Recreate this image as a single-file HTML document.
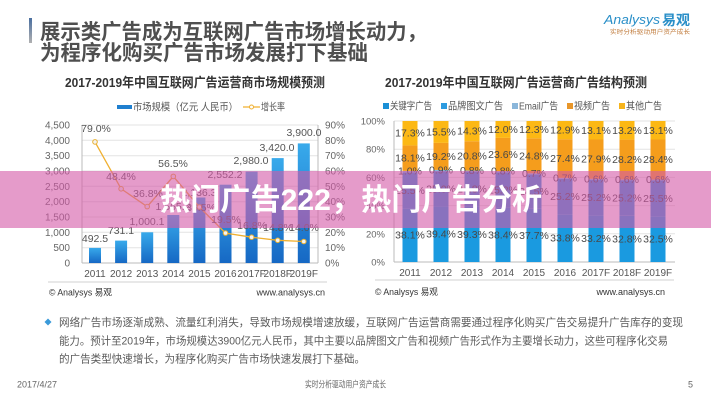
<!DOCTYPE html>
<html><head><meta charset="utf-8">
<style>
html,body{margin:0;padding:0;background:#fff;}
svg{display:block;}
text{font-family:"Liberation Sans","Noto Sans CJK SC",sans-serif;}
</style></head>
<body>
<svg width="711" height="400" viewBox="0 0 711 400" xmlns="http://www.w3.org/2000/svg">
<defs>
<linearGradient id="bg" x1="0" y1="0" x2="0" y2="1">
<stop offset="0" stop-color="#38aaeb"/><stop offset="1" stop-color="#1668c4"/>
</linearGradient>
<linearGradient id="acc" x1="0" y1="0" x2="0" y2="1">
<stop offset="0" stop-color="#4a6fa0"/><stop offset="1" stop-color="#b0b0b0"/>
</linearGradient>
</defs>
<rect width="711" height="400" fill="#fff"/>

<!-- Title -->
<rect x="29" y="18" width="3" height="25" fill="url(#acc)"/>
<text x="40" y="39" font-size="21" font-weight="bold" fill="#4f4f4f" textLength="387" lengthAdjust="spacingAndGlyphs">展示类广告成为互联网广告市场增长动力，</text>
<text x="40" y="60" font-size="21" font-weight="bold" fill="#4f4f4f" textLength="328" lengthAdjust="spacingAndGlyphs">为程序化购买广告市场发展打下基础</text>

<!-- Logo -->
<text x="604" y="24" font-size="13" font-style="italic" fill="#2a8fc8" textLength="56" lengthAdjust="spacingAndGlyphs">Analysys</text>
<text x="662" y="25" font-size="14" font-weight="bold" fill="#2a8fc8" textLength="28" lengthAdjust="spacingAndGlyphs">易观</text>
<text x="610" y="34" font-size="6" fill="#c07a3a" textLength="80" lengthAdjust="spacingAndGlyphs">实时分析驱动用户资产成长</text>

<!-- LEFT CHART -->
<text x="65" y="87" font-size="13" font-weight="bold" fill="#333" textLength="260" lengthAdjust="spacingAndGlyphs">2017-2019年中国互联网广告运营商市场规模预测</text>
<rect x="117" y="105" width="15" height="4" fill="#1f7fcf"/>
<text x="133" y="110.5" font-size="10" fill="#555" textLength="105" lengthAdjust="spacingAndGlyphs">市场规模（亿元 人民币）</text>
<line x1="243" y1="107" x2="260" y2="107" stroke="#f0b030" stroke-width="1.2"/>
<circle cx="251.5" cy="107" r="2" fill="#fff" stroke="#f0b030"/>
<text x="261" y="110.5" font-size="10" fill="#555" textLength="24" lengthAdjust="spacingAndGlyphs">增长率</text>

<g stroke="#e3e3e3" stroke-width="1">
<line x1="82" y1="125" x2="318" y2="125"/>
<line x1="82" y1="140.3" x2="318" y2="140.3"/>
<line x1="82" y1="155.7" x2="318" y2="155.7"/>
<line x1="82" y1="171" x2="318" y2="171"/>
<line x1="82" y1="186.3" x2="318" y2="186.3"/>
<line x1="82" y1="201.7" x2="318" y2="201.7"/>
<line x1="82" y1="217" x2="318" y2="217"/>
<line x1="82" y1="232.3" x2="318" y2="232.3"/>
<line x1="82" y1="247.7" x2="318" y2="247.7"/>
</g>
<line x1="82" y1="125" x2="82" y2="263" stroke="#bbb"/>
<line x1="318" y1="125" x2="318" y2="263" stroke="#bbb"/>
<line x1="82" y1="263" x2="318" y2="263" stroke="#bbb"/>

<g font-size="10" fill="#666" text-anchor="end">
<text x="70" y="128.5">4,500</text>
<text x="70" y="143.8">4,000</text>
<text x="70" y="159.2">3,500</text>
<text x="70" y="174.5">3,000</text>
<text x="70" y="189.8">2,500</text>
<text x="70" y="205.2">2,000</text>
<text x="70" y="220.5">1,500</text>
<text x="70" y="235.8">1,000</text>
<text x="70" y="251.2">500</text>
<text x="70" y="266.5">0</text>
</g>
<g font-size="10" fill="#666">
<text x="325" y="128.5">90%</text>
<text x="325" y="143.8">80%</text>
<text x="325" y="159.2">70%</text>
<text x="325" y="174.5">60%</text>
<text x="325" y="189.8">50%</text>
<text x="325" y="205.2">40%</text>
<text x="325" y="220.5">30%</text>
<text x="325" y="235.8">20%</text>
<text x="325" y="251.2">10%</text>
<text x="325" y="266.5">0%</text>
</g>

<g fill="url(#bg)">
<rect x="89" y="247.9" width="12" height="15.1"/>
<rect x="115.1" y="240.6" width="12" height="22.4"/>
<rect x="141.2" y="232.3" width="12" height="30.7"/>
<rect x="167.3" y="215" width="12" height="48"/>
<rect x="193.4" y="197.5" width="12" height="65.5"/>
<rect x="219.5" y="184.7" width="12" height="78.3"/>
<rect x="245.6" y="171.6" width="12" height="91.4"/>
<rect x="271.7" y="158.1" width="12" height="104.9"/>
<rect x="297.8" y="143.4" width="12" height="119.6"/>
</g>

<g font-size="10.5" fill="#555" text-anchor="middle">
<text x="95" y="242">492.5</text>
<text x="121" y="234">731.1</text>
<text x="147" y="225">1,000.1</text>
<text x="173" y="210">1,565.2</text>
<text x="199" y="196">2,136.3</text>
<text x="225" y="178">2,552.2</text>
<text x="251" y="164">2,980.0</text>
<text x="277" y="151">3,420.0</text>
<text x="304" y="136">3,900.0</text>
</g>

<polyline points="95,141.9 121.1,188.8 147.2,206.6 173.3,176.4 199.4,207 225.5,233.1 251.6,237.2 277.7,240.3 303.8,241.5" fill="none" stroke="#f0b030" stroke-width="1.3"/>
<g fill="#f3f3f3" stroke="#e8b030" stroke-width="1">
<circle cx="95" cy="141.9" r="2.3"/>
<circle cx="121.1" cy="188.8" r="2.3"/>
<circle cx="147.2" cy="206.6" r="2.3"/>
<circle cx="173.3" cy="176.4" r="2.3"/>
<circle cx="199.4" cy="207" r="2.3"/>
<circle cx="225.5" cy="233.1" r="2.3"/>
<circle cx="251.6" cy="237.2" r="2.3"/>
<circle cx="277.7" cy="240.3" r="2.3"/>
<circle cx="303.8" cy="241.5" r="2.3"/>
</g>
<g font-size="10.5" fill="#555" text-anchor="middle">
<text x="96" y="132">79.0%</text>
<text x="121" y="180">48.4%</text>
<text x="148" y="197">36.8%</text>
<text x="173" y="167">56.5%</text>
<text x="201" y="211">36.5%</text>
<text x="226" y="223">19.5%</text>
<text x="252" y="229">16.8%</text>
<text x="278" y="231">14.8%</text>
<text x="304" y="231">14.0%</text>
</g>

<g font-size="10" fill="#555" text-anchor="middle">
<text x="95" y="277">2011</text>
<text x="121.1" y="277">2012</text>
<text x="147.2" y="277">2013</text>
<text x="173.3" y="277">2014</text>
<text x="199.4" y="277">2015</text>
<text x="225.5" y="277">2016</text>
<text x="251.6" y="277">2017F</text>
<text x="277.7" y="277">2018F</text>
<text x="303.8" y="277">2019F</text>
</g>
<line x1="48" y1="282" x2="327" y2="282" stroke="#d0d0d0"/>
<text x="49" y="295.5" font-size="9" fill="#333" textLength="63" lengthAdjust="spacingAndGlyphs">© Analysys 易观</text>
<text x="325" y="295.5" font-size="9" fill="#333" text-anchor="end">www.analysys.cn</text>

<!-- RIGHT CHART -->
<text x="385" y="87" font-size="13" font-weight="bold" fill="#333" textLength="262" lengthAdjust="spacingAndGlyphs">2017-2019年中国互联网广告运营商广告结构预测</text>
<g font-size="10" fill="#555">
<rect x="383" y="103" width="6" height="6" fill="#1a8fd6"/>
<text x="390" y="109.5" textLength="42" lengthAdjust="spacingAndGlyphs">关键字广告</text>
<rect x="441" y="103" width="6" height="6" fill="#2c9be0"/>
<text x="448" y="109.5" textLength="55" lengthAdjust="spacingAndGlyphs">品牌图文广告</text>
<rect x="512" y="103" width="6" height="6" fill="#8ab6da"/>
<text x="519" y="109.5" textLength="39" lengthAdjust="spacingAndGlyphs">Email广告</text>
<rect x="567" y="103" width="6" height="6" fill="#e8962a"/>
<text x="574" y="109.5" textLength="36" lengthAdjust="spacingAndGlyphs">视频广告</text>
<rect x="619" y="103" width="6" height="6" fill="#f6b41c"/>
<text x="626" y="109.5" textLength="36" lengthAdjust="spacingAndGlyphs">其他广告</text>
</g>

<g stroke="#e3e3e3">
<line x1="394" y1="121" x2="675" y2="121"/>
<line x1="394" y1="149.2" x2="675" y2="149.2"/>
<line x1="394" y1="177.4" x2="675" y2="177.4"/>
<line x1="394" y1="205.6" x2="675" y2="205.6"/>
<line x1="394" y1="233.8" x2="675" y2="233.8"/>
</g>
<line x1="394" y1="121" x2="394" y2="262" stroke="#bbb"/>
<line x1="394" y1="262" x2="675" y2="262" stroke="#bbb"/>
<g font-size="9.5" fill="#666" text-anchor="end">
<text x="385" y="124.5">100%</text>
<text x="385" y="152.7">80%</text>
<text x="385" y="180.9">60%</text>
<text x="385" y="209.1">40%</text>
<text x="385" y="237.3">20%</text>
<text x="385" y="265.5">0%</text>
</g>

<!-- 2011 -->
<rect x="402.5" y="208.3" width="15" height="53.7" fill="#1a9ae0"/>
<rect x="402.5" y="172.3" width="15" height="36" fill="#2c94dc"/>
<rect x="402.5" y="170.9" width="15" height="1.4" fill="#8ab6da"/>
<rect x="402.5" y="145.4" width="15" height="25.5" fill="#f59d1c"/>
<rect x="402.5" y="121" width="15" height="24.4" fill="#fcb814"/>
<!-- 2012 -->
<rect x="433.5" y="206.4" width="15" height="55.6" fill="#1a9ae0"/>
<rect x="433.5" y="171.2" width="15" height="35.2" fill="#2c94dc"/>
<rect x="433.5" y="169.9" width="15" height="1.3" fill="#8ab6da"/>
<rect x="433.5" y="142.9" width="15" height="27" fill="#f59d1c"/>
<rect x="433.5" y="121" width="15" height="21.9" fill="#fcb814"/>
<!-- 2013 -->
<rect x="464.5" y="206.6" width="15" height="55.4" fill="#1a9ae0"/>
<rect x="464.5" y="171.6" width="15" height="35" fill="#2c94dc"/>
<rect x="464.5" y="170.5" width="15" height="1.1" fill="#8ab6da"/>
<rect x="464.5" y="141.2" width="15" height="29.3" fill="#f59d1c"/>
<rect x="464.5" y="121" width="15" height="20.2" fill="#fcb814"/>
<!-- 2014 -->
<rect x="495.5" y="207.9" width="15" height="54.1" fill="#1a9ae0"/>
<rect x="495.5" y="172.3" width="15" height="35.6" fill="#2c94dc"/>
<rect x="495.5" y="171.2" width="15" height="1.1" fill="#8ab6da"/>
<rect x="495.5" y="137.9" width="15" height="33.3" fill="#f59d1c"/>
<rect x="495.5" y="121" width="15" height="16.9" fill="#fcb814"/>
<!-- 2015 -->
<rect x="526.5" y="208.8" width="15" height="53.2" fill="#1a9ae0"/>
<rect x="526.5" y="174.3" width="15" height="34.5" fill="#2c94dc"/>
<rect x="526.5" y="173.3" width="15" height="1" fill="#8ab6da"/>
<rect x="526.5" y="138.3" width="15" height="35" fill="#f59d1c"/>
<rect x="526.5" y="121" width="15" height="17.3" fill="#fcb814"/>
<!-- 2016 -->
<rect x="557.5" y="214.3" width="15" height="47.7" fill="#1a9ae0"/>
<rect x="557.5" y="178.8" width="15" height="35.5" fill="#2c94dc"/>
<rect x="557.5" y="177.8" width="15" height="1" fill="#8ab6da"/>
<rect x="557.5" y="139.2" width="15" height="38.6" fill="#f59d1c"/>
<rect x="557.5" y="121" width="15" height="18.2" fill="#fcb814"/>
<!-- 2017F -->
<rect x="588.5" y="215.2" width="15" height="46.8" fill="#1a9ae0"/>
<rect x="588.5" y="179.7" width="15" height="35.5" fill="#2c94dc"/>
<rect x="588.5" y="178.8" width="15" height="0.9" fill="#8ab6da"/>
<rect x="588.5" y="139.5" width="15" height="39.3" fill="#f59d1c"/>
<rect x="588.5" y="121" width="15" height="18.5" fill="#fcb814"/>
<!-- 2018F -->
<rect x="619.5" y="215.8" width="15" height="46.2" fill="#1a9ae0"/>
<rect x="619.5" y="180.2" width="15" height="35.6" fill="#2c94dc"/>
<rect x="619.5" y="179.4" width="15" height="0.8" fill="#8ab6da"/>
<rect x="619.5" y="139.6" width="15" height="39.8" fill="#f59d1c"/>
<rect x="619.5" y="121" width="15" height="18.6" fill="#fcb814"/>
<!-- 2019F -->
<rect x="650.5" y="216.2" width="15" height="45.8" fill="#1a9ae0"/>
<rect x="650.5" y="180.4" width="15" height="35.8" fill="#2c94dc"/>
<rect x="650.5" y="179.5" width="15" height="0.9" fill="#8ab6da"/>
<rect x="650.5" y="139.5" width="15" height="40" fill="#f59d1c"/>
<rect x="650.5" y="121" width="15" height="18.5" fill="#fcb814"/>

<g font-size="10.5" fill="#484848" text-anchor="middle">
<text x="410" y="136.7">17.3%</text><text x="441" y="135.5">15.5%</text><text x="472" y="134.6">14.3%</text>
<text x="503" y="133">12.0%</text><text x="534" y="133.2">12.3%</text><text x="565" y="133.6">12.9%</text>
<text x="596" y="133.8">13.1%</text><text x="627" y="133.8">13.2%</text><text x="658" y="133.8">13.1%</text>

<text x="410" y="161.7">18.1%</text><text x="441" y="159.9">19.2%</text><text x="472" y="159.4">20.8%</text>
<text x="503" y="158.1">23.6%</text><text x="534" y="159.3">24.8%</text><text x="565" y="162">27.4%</text>
<text x="596" y="162.7">27.9%</text><text x="627" y="163">28.2%</text><text x="658" y="163">28.4%</text>

<text x="410" y="174.4">1.0%</text><text x="441" y="173.4">0.9%</text><text x="472" y="174">0.8%</text>
<text x="503" y="174.7">0.8%</text><text x="534" y="176.8">0.7%</text><text x="565" y="181.3">0.7%</text>
<text x="596" y="182.3">0.6%</text><text x="627" y="182.9">0.6%</text><text x="658" y="183">0.6%</text>

<text x="410" y="193.8">25.5%</text><text x="441" y="192.3">25.0%</text><text x="472" y="192.6">24.8%</text>
<text x="503" y="193.6">25.2%</text><text x="534" y="195.1">24.5%</text><text x="565" y="200.1">25.2%</text>
<text x="596" y="201">25.2%</text><text x="627" y="201.5">25.2%</text><text x="658" y="201.8">25.5%</text>

<text x="410" y="238.7">38.1%</text><text x="441" y="237.7">39.4%</text><text x="472" y="237.8">39.3%</text>
<text x="503" y="238.5">38.4%</text><text x="534" y="238.9">37.7%</text><text x="565" y="241.7">33.8%</text>
<text x="596" y="242.1">33.2%</text><text x="627" y="242.4">32.8%</text><text x="658" y="242.6">32.5%</text>
</g>

<g font-size="10" fill="#555" text-anchor="middle">
<text x="410" y="276">2011</text><text x="441" y="276">2012</text><text x="472" y="276">2013</text>
<text x="503" y="276">2014</text><text x="534" y="276">2015</text><text x="565" y="276">2016</text>
<text x="596" y="276">2017F</text><text x="627" y="276">2018F</text><text x="658" y="276">2019F</text>
</g>
<line x1="375" y1="280" x2="674" y2="280" stroke="#d0d0d0"/>
<text x="375" y="295" font-size="9" fill="#333" textLength="63" lengthAdjust="spacingAndGlyphs">© Analysys 易观</text>
<text x="665" y="295" font-size="9" fill="#333" text-anchor="end">www.analysys.cn</text>

<!-- Paragraph -->
<path d="M48,318.5 L51.5,322 L48,325.5 L44.5,322 Z" fill="#3a9ad9"/>
<g font-size="10.6" fill="#5a5a5a">
<text x="59" y="326" textLength="624" lengthAdjust="spacingAndGlyphs">网络广告市场逐渐成熟、流量红利消失，导致市场规模增速放缓，互联网广告运营商需要通过程序化购买广告交易提升广告库存的变现</text>
<text x="59" y="344.5" textLength="609" lengthAdjust="spacingAndGlyphs">能力。预计至2019年，市场规模达3900亿元人民币，其中主要以品牌图文广告和视频广告形式作为主要增长动力，这些可程序化交易</text>
<text x="59" y="362.5" textLength="306" lengthAdjust="spacingAndGlyphs">的广告类型快速增长，为程序化购买广告市场快速发展打下基础。</text>
</g>

<!-- Footer -->
<g font-size="9" fill="#666">
<text x="17" y="387.5" textLength="40" lengthAdjust="spacingAndGlyphs">2017/4/27</text>
<text x="305" y="387.5" textLength="81" lengthAdjust="spacingAndGlyphs">实时分析驱动用户资产成长</text>
<text x="688" y="387.5">5</text>
</g>

<!-- Overlay band -->
<rect x="0" y="171" width="711" height="57" fill="rgb(212,88,166)" fill-opacity="0.6"/>
<text x="160" y="210" font-size="30" font-weight="bold" fill="#fff" textLength="382" lengthAdjust="spacingAndGlyphs">热门广告222，热门广告分析</text>
</svg>
</body></html>
